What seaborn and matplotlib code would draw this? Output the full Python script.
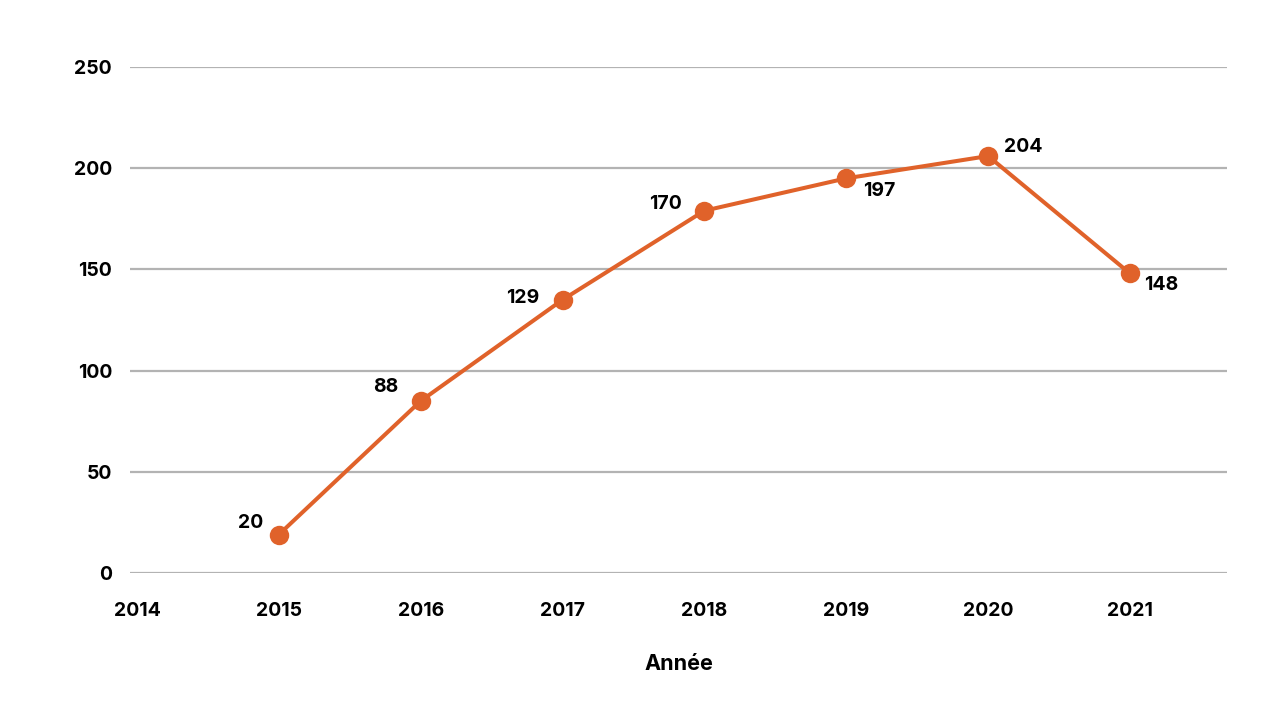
import matplotlib
matplotlib.use("Agg")
import matplotlib.pyplot as plt
import seaborn as sns
import pandas as pd

# données
annees = [2015, 2016, 2017, 2018, 2019, 2020, 2021]
valeurs = [19, 85, 135, 179, 195, 206, 148]   # position des points
etiquettes = ["20", "88", "129", "170", "197", "204", "148"]
# placement des étiquettes (décalage en points)
decalages = [(-11, 8), (-16, 10), (-17, 1.5), (-16, 5), (12, -9), (11.5, 6.5), (10, -8)]

D = pd.DataFrame({"Année": annees, "valeur": valeurs})

sns.set_style("white")
plt.rcParams['font.family'] = ['Inter', 'DejaVu Sans']
plt.rcParams['text.color'] = 'black'
plt.rcParams['xtick.color'] = 'black'
plt.rcParams['ytick.color'] = 'black'
plt.rcParams['axes.labelcolor'] = 'black'
orange = "#E0622A"

fig = plt.figure(figsize=(12.8, 7.03), dpi=100)
ax = fig.add_axes([0.1016, 0.1849, 0.857, 0.7198])

sns.lineplot(data=D, x="Année", y="valeur", ax=ax, color=orange,
             linewidth=2.9, marker="o", markersize=14, markeredgewidth=0)

for x, y, t, (dx, dy) in zip(annees, valeurs, etiquettes, decalages):
    ha = "right" if dx < 0 else "left"
    ax.annotate(t, (x, y), xytext=(dx, dy), textcoords="offset points",
                ha=ha, va="center", fontsize=14, fontweight="bold")

ax.set_xlim(2013.951, 2021.684)
ax.set_ylim(0, 250)
ax.set_xticks(range(2014, 2022))
ax.set_yticks(range(0, 251, 50))
ax.grid(axis="y", color="#b3b3b3", linewidth=1.6)
ax.set_axisbelow(True)
sns.despine(ax=ax, left=True, bottom=True)
ax.tick_params(length=0, labelsize=14)
ax.tick_params(axis="y", pad=13)
ax.tick_params(axis="x", pad=21)
for lab in ax.get_xticklabels() + ax.get_yticklabels():
    lab.set_fontweight("bold")
ax.set_xlabel("Année", fontsize=15.5, fontweight="bold", labelpad=24)
ax.set_ylabel("")

plt.savefig("out.png", dpi=100)
